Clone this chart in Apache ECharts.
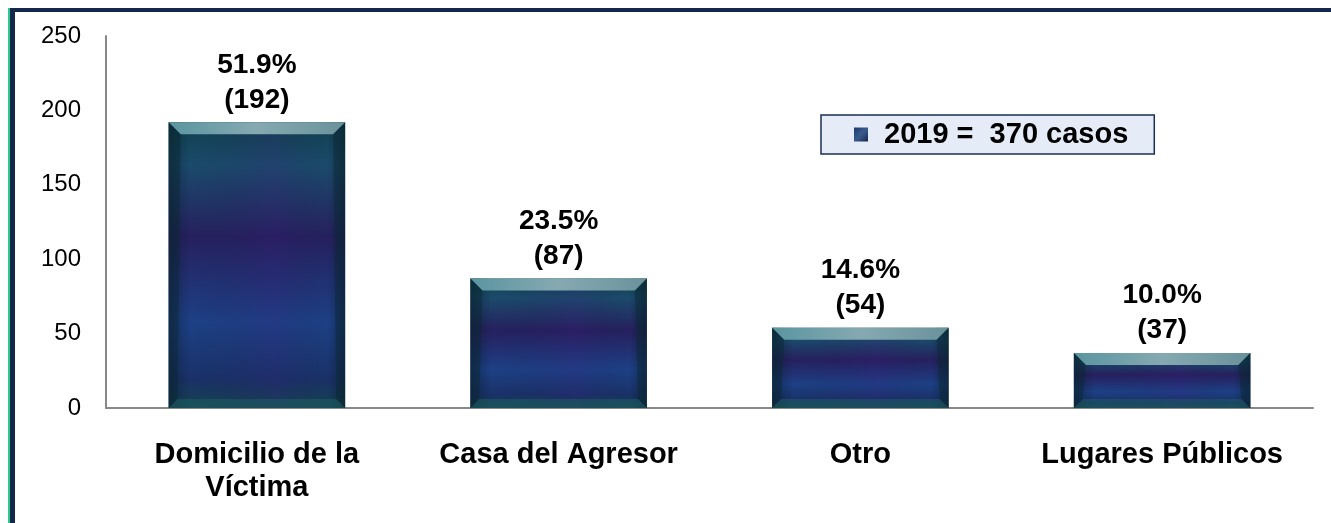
<!DOCTYPE html>
<html>
<head>
<meta charset="utf-8">
<script src="https://cdn.jsdelivr.net/npm/echarts@6/dist/echarts.min.js"></script>
<style>
html,body{margin:0;padding:0;background:#fff;}
#chart{width:1331px;height:523px;}
</style>
</head>
<body>
<div id="chart"></div>
<script>
const categories = ['Domicilio de la\nVíctima', 'Casa del Agresor', 'Otro', 'Lugares Públicos'];
const values = [192, 87, 54, 37];
const percents = ['51.9%', '23.5%', '14.6%', '10.0%'];
const seriesName = '2019 =  370 casos';
const yTicks = {min: 0, max: 250, interval: 50};

const FONT = '"Liberation Sans", Arial, sans-serif';
const chart = echarts.init(document.getElementById('chart'));

function renderItem(params, api) {
  const idx = api.value(0);
  const v = api.value(1);
  const top = api.coord([idx, v]);
  const base = api.coord([idx, 0]);
  const bw = api.size([1, 0])[0] * 0.585;
  const l = top[0] - bw / 2, r = top[0] + bw / 2, t = top[1], b = base[1];
  const h = b - t;
  const bev = 12;
  const side = 9;
  return {
    type: 'group',
    children: [
      {
        type: 'rect',
        shape: {x: l, y: t, width: bw, height: h},
        style: {
          fill: new echarts.graphic.LinearGradient(0, 0, 0, 1, [
            {offset: 0, color: '#11404e'},
            {offset: 0.15, color: '#1b4a6c'},
            {offset: 0.4, color: '#26205f'},
            {offset: 0.7, color: '#1d4085'},
            {offset: 0.9, color: '#1a3168'},
            {offset: 1, color: '#154250'}
          ])
        }
      },
      {
        type: 'rect',
        shape: {x: l, y: t, width: bw, height: h},
        style: {
          fill: new echarts.graphic.LinearGradient(0, 0, 1, 0, [
            {offset: 0, color: 'rgba(5,25,35,0.45)'},
            {offset: 0.12, color: 'rgba(5,25,35,0)'},
            {offset: 0.6, color: 'rgba(70,20,130,0.15)'},
            {offset: 0.9, color: 'rgba(5,25,35,0)'},
            {offset: 1, color: 'rgba(5,25,35,0.45)'}
          ])
        }
      },
      {
        type: 'polygon',
        shape: {points: [[l, t], [r, t], [r - bev, t + bev], [l + bev, t + bev]]},
        style: {
          fill: new echarts.graphic.LinearGradient(0, 0, 1, 0, [
            {offset: 0, color: '#5a95a0'},
            {offset: 0.5, color: '#86a9b1'},
            {offset: 1, color: '#6a929b'}
          ])
        }
      },
      {
        type: 'polygon',
        shape: {points: [[l, t], [l + bev, t + bev], [l + side, b - side], [l, b]]},
        style: {fill: 'rgba(10,40,50,0.45)'}
      },
      {
        type: 'polygon',
        shape: {points: [[r, t], [r - bev, t + bev], [r - side, b - side], [r, b]]},
        style: {fill: 'rgba(10,40,50,0.45)'}
      },
      {
        type: 'polygon',
        shape: {points: [[l, b], [r, b], [r - side, b - side], [l + side, b - side]]},
        style: {fill: 'rgba(30,95,100,0.5)'}
      },
      {
        type: 'text',
        style: {
          text: percents[idx] + '\n(' + values[idx] + ')',
          x: top[0],
          y: t - 5,
          align: 'center',
          verticalAlign: 'bottom',
          font: 'bold 28px ' + FONT,
          lineHeight: 35,
          fill: '#000'
        }
      }
    ]
  };
}

const option = {
  animation: false,
  backgroundColor: '#fff',
  grid: {left: 106, right: 18, top: 36, bottom: 115, containLabel: false},
  graphic: [
    {type: 'rect', shape: {x: 8, y: 8, width: 1323, height: 4}, style: {fill: '#13294b'}},
    {type: 'rect', shape: {x: 8, y: 8, width: 3, height: 515}, style: {fill: '#2cc88c'}},
    {type: 'rect', shape: {x: 10, y: 8, width: 5, height: 515}, style: {fill: '#13294b'}}
  ],
  legend: {
    data: [{name: seriesName, itemStyle: {color: new echarts.graphic.LinearGradient(0, 0, 1, 1, [
      {offset: 0, color: '#1c3a6e'}, {offset: 0.5, color: '#3a5a8c'}, {offset: 1, color: '#14284e'}])}}],
    left: 821,
    top: 115,
    orient: 'horizontal',
    icon: 'rect',
    itemWidth: 14,
    itemHeight: 14,
    padding: [5, 26, 5, 33],
    backgroundColor: '#e6ecf7',
    borderColor: '#1b2f55',
    borderWidth: 1.5,
    borderRadius: 0,
    textStyle: {color: '#000', fontFamily: FONT, fontWeight: 'bold', fontSize: 29, padding: [0, 0, 0, 11]}
  },
  xAxis: {
    type: 'category',
    data: categories,
    axisLine: {lineStyle: {color: '#888', width: 2}},
    axisTick: {show: false},
    axisLabel: {color: '#000', fontFamily: FONT, fontWeight: 'bold', fontSize: 29, lineHeight: 33, margin: 30, interval: 0}
  },
  yAxis: {
    type: 'value',
    min: yTicks.min,
    max: yTicks.max,
    interval: yTicks.interval,
    axisLine: {show: true, lineStyle: {color: '#888', width: 2}},
    axisTick: {show: false},
    splitLine: {show: false},
    axisLabel: {color: '#000', fontFamily: FONT, fontSize: 24, margin: 25}
  },
  series: [{
    name: seriesName,
    type: 'custom',
    renderItem: renderItem,
    itemStyle: {color: '#1c3a6e'},
    encode: {x: 0, y: 1},
    data: values.map((v, i) => [i, v])
  }]
};
chart.setOption(option);
</script>
</body>
</html>
